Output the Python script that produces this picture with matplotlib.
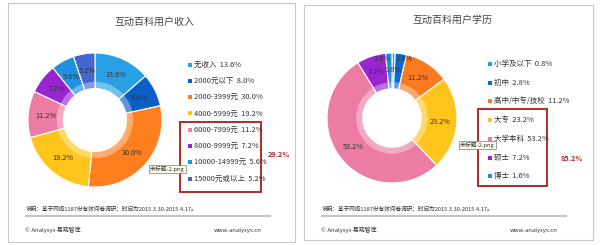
import matplotlib
matplotlib.use("Agg")
import matplotlib.pyplot as plt
import numpy as np
from matplotlib.patches import Rectangle, Wedge

plt.rcParams['font.family'] = ['Noto Sans CJK SC', 'DejaVu Sans']

# ---- data ----
income_titles = "互动百科用户收入"
income_labels = ["无收入", "2000元以下", "2000-3999元", "4000-5999元",
                 "6000-7999元", "8000-9999元", "10000-14999元", "15000元或以上"]
income_values = [13.6, 8.0, 30.0, 19.2, 11.2, 7.2, 5.6, 5.2]
income_colors = ["#2AA0E4", "#0B5EC6", "#FF7F1F", "#FFC51C",
                 "#EC7CA4", "#9A24D2", "#2091E0", "#4366D0"]
income_highlight = "29.2%"

edu_title = "互动百科用户学历"
edu_labels = ["小学及以下", "初中", "高中/中专/技校", "大专", "大学本科", "硕士", "博士"]
edu_values = [0.8, 2.8, 11.2, 23.2, 53.2, 7.2, 1.6]
edu_colors = ["#2AA0E4", "#0B6AD4", "#FA7A22", "#FFC51C", "#EC7CA4", "#9A24D2", "#2091E0"]
edu_highlight = "85.2%"

note = "说明：基于网络1187份有效问卷调研；时间为2015.3.30-2015.4.17。"
brand = "© Analysys 易观智库"
site = "www.analysys.cn"

W, H = 600, 245
fig = plt.figure(figsize=(W / 100, H / 100), dpi=100)
fig.patch.set_facecolor("white")


def donut(cx, cy, r, values, colors, hole, label_r=None, label_shift=None):
    ax = fig.add_axes([(cx - r) / W, (H - cy - r) / H, 2 * r / W, 2 * r / H])
    wedges, _ = ax.pie(values, colors=colors, startangle=90, counterclock=False,
                       radius=1.0,
                       wedgeprops=dict(width=1 - hole, edgecolor="white", linewidth=0.8))
    ax.add_patch(Wedge((0, 0), hole + 0.1, 0, 360, width=0.1, facecolor="white",
                       alpha=0.35, edgecolor="none", zorder=3))
    n = len(values)
    label_r = label_r or [0.74] * n
    label_shift = label_shift or [0.0] * n
    for w, v, lr, sh in zip(wedges, values, label_r, label_shift):
        ang = np.deg2rad((w.theta1 + w.theta2) / 2 + sh)
        ax.text(lr * np.cos(ang), lr * np.sin(ang), f"{v:.1f}%", fontsize=5.3,
                color="#333333", ha="center", va="center", zorder=5)
    ax.set_xlim(-1, 1)
    ax.set_ylim(-1, 1)
    ax.set_aspect("equal")
    ax.axis("off")
    return ax


donut(95, 120, 67, income_values, income_colors, 0.47)
donut(392, 118, 65, edu_values, edu_colors, 0.45,
      label_r=[0.74, 0.92, 0.74, 0.74, 0.74, 0.74, 0.92],
      label_shift=[0, -4, 0, 0, 0, 0, 7])

ov = fig.add_axes([0, 0, 1, 1], zorder=10)
ov.set_xlim(0, W)
ov.set_ylim(H, 0)
ov.axis("off")
ov.patch.set_alpha(0)

# panel frames
ov.add_patch(Rectangle((8, 3), 287, 239, fill=False, edgecolor="#C9C9C9", linewidth=0.8))
ov.add_patch(Rectangle((304, 5), 289, 235, fill=False, edgecolor="#C9C9C9", linewidth=0.8))


def panel(x0, title, title_x, title_y, labels, values, colors, legend_x, legend_y0, dy,
          box, hl, hl_xy, tip_xy):
    ov.text(title_x, title_y, title, fontsize=7.2, color="#444444", ha="center", va="center")
    for i, (lab, v, c) in enumerate(zip(labels, values, colors)):
        y = legend_y0 + i * dy
        ov.add_patch(Rectangle((legend_x - 2, y - 2), 4, 4, facecolor=c, edgecolor="none"))
        ov.text(legend_x + 4, y, f"{lab}  {v:.1f}%", fontsize=5.4, color="#333333",
                ha="left", va="center")
    bx0, by0, bx1, by1 = box
    ov.add_patch(Rectangle((bx0, by0), bx1 - bx0, by1 - by0, fill=False,
                           edgecolor="#B12A2A", linewidth=1.4))
    ov.text(hl_xy[0], hl_xy[1], hl, fontsize=5.2, color="#B12A2A", fontweight="bold",
            ha="center", va="center")
    ov.text(tip_xy[0], tip_xy[1], "未标题-2.png", fontsize=4.2, color="#333333",
            ha="left", va="center",
            bbox=dict(boxstyle="square,pad=0.2", facecolor="#FFFFF0", edgecolor="#777777",
                      linewidth=0.5))
    ov.text(x0 + 18, 209, note, fontsize=4.1, color="#333333", ha="left", va="center")
    ov.plot([x0 + 18, x0 + 262], [215.5, 215.5], color="#BDBDBD", linewidth=1.3)
    ov.text(x0 + 17, 230, brand, fontsize=4.3, color="#333333", ha="left", va="center")
    ov.text(x0 + 254, 230, site, fontsize=4.3, color="#333333", ha="right", va="center")


panel(8, income_titles, 154, 22, income_labels, income_values, income_colors,
      190, 64.5, 16.3, (180, 122, 261, 192), income_highlight, (279, 154), (150, 169))
panel(304, edu_title, 452, 20, edu_labels, edu_values, edu_colors,
      490, 64, 18.7, (478, 109, 547, 186), edu_highlight, (572, 158), (460, 145))

fig.savefig("out.png", dpi=100, facecolor="white")
